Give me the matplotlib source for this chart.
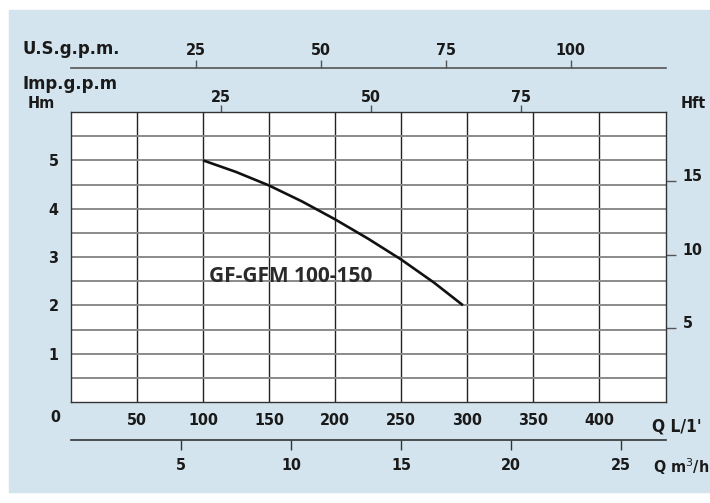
import numpy as np
import matplotlib
matplotlib.use("Agg")
import matplotlib.pyplot as plt
from matplotlib import font_manager
from matplotlib.patches import Rectangle

# pump curve GF-GFM 100-150
Q_LPM = [100, 125, 150, 175, 200, 225, 250, 275, 297]
H_M = [5.0, 4.76, 4.48, 4.15, 3.78, 3.38, 2.95, 2.47, 2.0]

LPM_TICKS = [50, 100, 150, 200, 250, 300, 350, 400]
HM_TICKS = [1, 2, 3, 4, 5]
HFT_TICKS = [5, 10, 15]
US_TICKS = [25, 50, 75, 100]
IMP_TICKS = [25, 50, 75]
M3H_TICKS = [5, 10, 15, 20, 25]

US_GAL = 3.785
IMP_GAL = 4.546
M_TO_FT = 3.2808

BG = "#d3e4ee"
TXT = "#1a1a1a"

# narrow bold face for the axis texts, whatever is installed
fonts = font_manager.fontManager.ttflist
names = {f.name for f in fonts}
STRETCH = "normal"
if "Liberation Sans Narrow" in names:
    FONT, FS = ["Liberation Sans Narrow", "DejaVu Sans"], 13
elif any(f.name == "DejaVu Sans" and f.stretch == "condensed" for f in fonts):
    FONT, FS, STRETCH = ["DejaVu Sans"], 11.5, "condensed"
else:
    FONT, FS = ["DejaVu Sans"], 10.5

W, H = 710, 503
fig = plt.figure(figsize=(W / 100, H / 100), dpi=100)
fig.patches.append(Rectangle((9 / W, 1 - 492 / H), 1 - 9 / W, (492 - 10) / H,
                             transform=fig.transFigure, color=BG, zorder=-10))

x0, x1, ytop, ybot = 71, 666, 112, 402
ax = fig.add_axes([x0 / W, 1 - ybot / H, (x1 - x0) / W, (ybot - ytop) / H])
ax.set_facecolor("white")
xmax = (x1 - x0) / 66 * 50
ax.set_xlim(0, xmax)
ax.set_ylim(0, 6)


def style(labels, va=None):
    for lab in labels:
        lab.set_family(FONT)
        lab.set_stretch(STRETCH)
        lab.set_weight("bold")
        lab.set_size(FS)
        lab.set_color(TXT)
        if va:
            lab.set_va(va)


ax.set_xticks(LPM_TICKS)
ax.set_yticks(HM_TICKS)
ax.set_yticks(np.arange(0.5, 6, 0.5), minor=True)
ax.tick_params(which="both", length=0)
ax.tick_params(axis="x", pad=8)
ax.tick_params(axis="y", pad=9)
style(ax.get_xticklabels() + ax.get_yticklabels())
ax.grid(axis="x", which="major", color="#222222", linewidth=1.0)
ax.grid(axis="y", which="both", color="#8a8a8a", linewidth=1.4)
for s in ax.spines.values():
    s.set_color("#333333")
    s.set_linewidth(1.0)

ax.plot(Q_LPM, H_M, color="#111111", linewidth=1.9, solid_capstyle="butt",
        solid_joinstyle="round", zorder=5)
ax.text((209 - x0) / 1.32, 2.6, "GF-GFM 100-150", fontsize=15,
        fontweight="bold", family=["Open Sans", "DejaVu Sans"], color="#2a2a2a",
        va="center", ha="left", zorder=6)
ax.text(-12, -0.33, "0", fontsize=FS, fontweight="bold", family=FONT,
        fontstretch=STRETCH, color=TXT, ha="center", va="center", clip_on=False)

# right axis in feet
sec_r = ax.secondary_yaxis("right", functions=(lambda m: m * M_TO_FT,
                                               lambda f: f / M_TO_FT))
sec_r.set_yticks(HFT_TICKS)
sec_r.tick_params(length=7, width=1, color="#555555", pad=5)
style(sec_r.get_yticklabels(), va="baseline")
sec_r.spines["right"].set_visible(False)

# Imp. g.p.m. on the top spine
sec_imp = ax.secondary_xaxis("top", functions=(lambda q: q / IMP_GAL,
                                               lambda g: g * IMP_GAL))
sec_imp.set_xticks(IMP_TICKS)
sec_imp.tick_params(length=5, width=1, color="#555555", pad=0)
sec_imp.spines["top"].set_visible(False)
style(sec_imp.get_xticklabels())

# U.S. g.p.m. line above
sec_us = ax.secondary_xaxis((ybot - 68) / (ybot - ytop),
                            functions=(lambda q: q / US_GAL, lambda g: g * US_GAL))
sec_us.set_xticks(US_TICKS)
sec_us.tick_params(length=6, width=1, color="#555555", pad=1, direction="out")
sec_us.spines["top"].set_color("#555555")
sec_us.spines["top"].set_linewidth(1.2)
style(sec_us.get_xticklabels())

# m3/h line below
sec_m3 = ax.secondary_xaxis(-(440 - ybot) / (ybot - ytop),
                            functions=(lambda q: q * 0.06, lambda m: m / 0.06))
sec_m3.set_xticks(M3H_TICKS)
sec_m3.tick_params(length=7, width=1, color="#333333", pad=6, direction="out")
sec_m3.spines["bottom"].set_color("#333333")
sec_m3.spines["bottom"].set_linewidth(1.2)
style(sec_m3.get_xticklabels())


def ftext(x, y, s, ha="left", size=FS):
    fig.text(x / W, 1 - y / H, s, ha=ha, va="center", fontsize=size,
             fontweight="bold", family=FONT, fontstretch=STRETCH, color=TXT)


ftext(22, 49, "U.S.g.p.m.", size=FS * 1.15)
ftext(22, 84, "Imp.g.p.m", size=FS * 1.15)
ftext(28, 104, "Hm")
ftext(706, 104, "Hft", ha="right")
ftext(652, 426, "Q L/1'", size=FS * 1.08)
ftext(653, 467, "Q m$^3$/h")

fig.savefig("out.png", dpi=100)
